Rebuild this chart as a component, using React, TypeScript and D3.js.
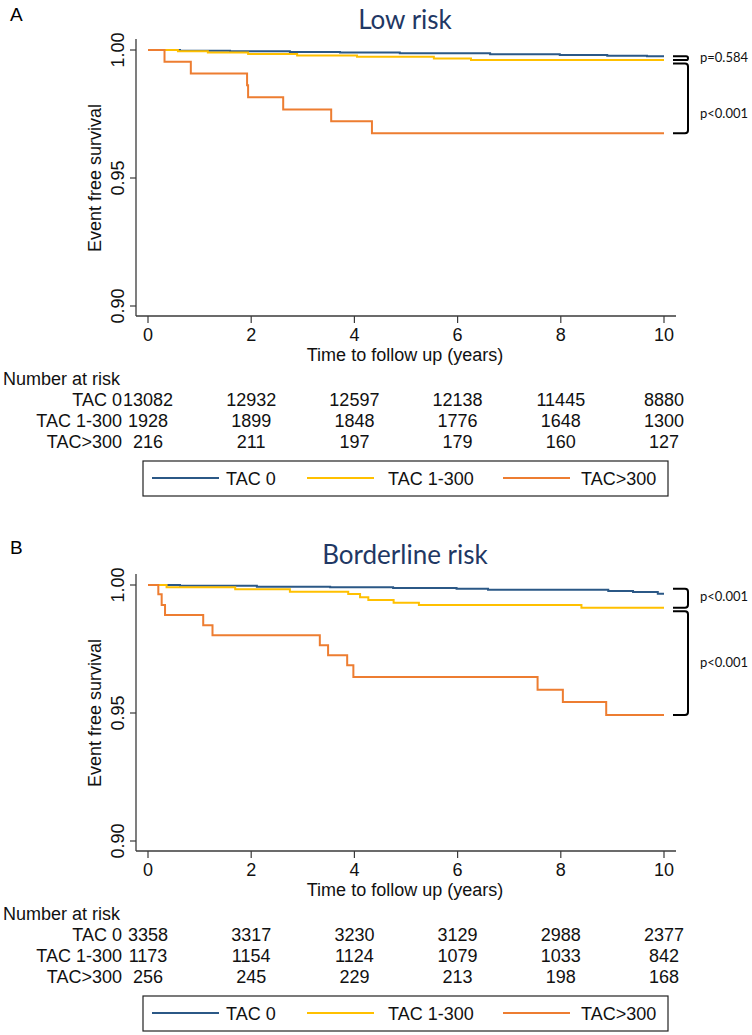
import React from "react";
import * as d3 from "d3";

// ---------- data ----------
const years = [0, 2, 4, 6, 8, 10];
const survivalTicks = [0.9, 0.95, 1.0];
const groupNames = ["TAC 0", "TAC 1-300", "TAC>300"];
const groupColors = ["#2b5886", "#ffc000", "#ed7d31"];

// Panel A - Low risk
const lowTac0Time = [0, 0.62, 1.59, 2.75, 3.72, 4.88, 6.63, 7.98, 8.9, 9.67, 10];
const lowTac0Surv = [1, 0.99973, 0.99949, 0.99922, 0.99902, 0.99875, 0.99836, 0.99805, 0.99777, 0.99754, 0.99754];
const lowTac1Time = [0, 0.58, 1.16, 1.94, 2.89, 4.05, 5.54, 6.26, 10];
const lowTac1Surv = [1, 0.9995, 0.999, 0.9984, 0.9979, 0.9974, 0.9967, 0.9961, 0.9961];
const lowTac300Time = [0, 0.32, 0.83, 1.92, 1.94, 2.62, 3.55, 4.34, 10];
const lowTac300Surv = [1, 0.9954, 0.9908, 0.9862, 0.9815, 0.9768, 0.9722, 0.9675, 0.9675];

// Panel B - Borderline risk
const blTac0Time = [0, 0.62, 2.11, 3.53, 4.75, 5.98, 6.59, 8.92, 9.4, 9.88, 10];
const blTac0Surv = [1, 0.9997, 0.9993, 0.9991, 0.9988, 0.99855, 0.99816, 0.99765, 0.99725, 0.9966, 0.9966];
const blTac1Time = [0, 0.36, 1.69, 2.75, 3.88, 4.11, 4.27, 4.76, 5.25, 8.4, 10];
const blTac1Surv = [1, 0.9991, 0.99831, 0.99737, 0.99647, 0.99518, 0.99412, 0.99306, 0.99216, 0.9911, 0.9911];
const blTac300Time = [0, 0.2, 0.265, 0.33, 1.07, 1.25, 3.33, 3.49, 3.86, 3.98, 7.55, 8.04, 8.88, 10];
const blTac300Surv = [1, 0.99635, 0.99216, 0.98824, 0.98431, 0.98039, 0.97647, 0.97255, 0.96863, 0.96404, 0.9591, 0.9543, 0.9492, 0.9492];

// Numbers at risk
const lowAtRiskTac0 = [13082, 12932, 12597, 12138, 11445, 8880];
const lowAtRiskTac1 = [1928, 1899, 1848, 1776, 1648, 1300];
const lowAtRiskTac300 = [216, 211, 197, 179, 160, 127];
const blAtRiskTac0 = [3358, 3317, 3230, 3129, 2988, 2377];
const blAtRiskTac1 = [1173, 1154, 1124, 1079, 1033, 842];
const blAtRiskTac300 = [256, 245, 229, 213, 198, 168];

// Log-rank comparisons
const lowPValues = ["p=0.584", "p<0.001"];
const lowPLabelAt = [0.99707, 0.97539];
const blPValues = ["p<0.001", "p<0.001"];
const blPLabelAt = [0.99541, 0.96992];

// ---------- drawing ----------
const SANS = "'Liberation Sans', Arial, Helvetica, sans-serif";
const TITLE_FONT = "Lato, 'Open Sans', sans-serif";

const x = d3.scaleLinear().domain([0, 10]).range([148, 664]);
const y = d3.scaleLinear().domain([0.9, 1.0]).range([306, 50]);
const line = d3
  .line<[number, number]>()
  .x((d) => x(d[0]))
  .y((d) => y(d[1]))
  .curve(d3.curveStepAfter);

type PanelProps = {
  offsetY: number;
  letter: string;
  letterY: number;
  title: string;
  times: number[][];
  survs: number[][];
  atRisk: number[][];
  pValues: string[];
  pLabelAt: number[];
  bracketPad: number;
};

function bracketPath(x0: number, x1: number, yTop: number, yBot: number) {
  const r = Math.min(3, (yBot - yTop) / 2);
  return `M${x0},${yTop} L${x1 - r},${yTop} Q${x1},${yTop} ${x1},${yTop + r} L${x1},${yBot - r} Q${x1},${yBot} ${x1 - r},${yBot} L${x0},${yBot}`;
}

function Panel(p: PanelProps) {
  const ends = p.survs.map((s) => s[s.length - 1]);
  const b1Top = y(ends[0]) - p.bracketPad;
  const b1Bot = y(ends[1]);
  const b2Top = y(ends[1]) + 3.5;
  const b2Bot = y(ends[2]);
  const axisColor = "#3a3a3a";
  const rowBase = [406, 427, 448];
  return (
    <g transform={`translate(0, ${p.offsetY})`}>
      <text x={10} y={p.letterY} fontFamily={SANS} fontSize={19} fill="#000">
        {p.letter}
      </text>
      <text x={405} y={29} textAnchor="middle" fontFamily={TITLE_FONT} fontSize={26} fill="#1f3864">
        {p.title}
      </text>

      {/* axes */}
      <line x1={136} x2={136} y1={39} y2={316} stroke={axisColor} strokeWidth={1.3} />
      <line x1={136} x2={676} y1={316} y2={316} stroke={axisColor} strokeWidth={1.3} />
      {survivalTicks.map((v) => (
        <g key={v}>
          <line x1={130} x2={136} y1={y(v)} y2={y(v)} stroke={axisColor} strokeWidth={1.2} />
          <text
            transform={`translate(124, ${y(v)}) rotate(-90)`}
            textAnchor="middle"
            fontFamily={SANS}
            fontSize={18}
            fill="#111"
          >
            {v.toFixed(2)}
          </text>
        </g>
      ))}
      <text
        transform={`translate(101, 178) rotate(-90)`}
        textAnchor="middle"
        fontFamily={SANS}
        fontSize={18}
        fill="#111"
      >
        Event free survival
      </text>
      {years.map((t) => (
        <g key={t}>
          <line x1={x(t)} x2={x(t)} y1={316} y2={323} stroke={axisColor} strokeWidth={1.2} />
          <text x={x(t)} y={341} textAnchor="middle" fontFamily={SANS} fontSize={18} fill="#111">
            {t}
          </text>
        </g>
      ))}
      <text x={405} y={361} textAnchor="middle" fontFamily={SANS} fontSize={18} fill="#111">
        Time to follow up (years)
      </text>

      {/* curves */}
      {p.times.map((ts, i) => (
        <path
          key={i}
          d={line(ts.map((t, j) => [t, p.survs[i][j]] as [number, number])) || ""}
          fill="none"
          stroke={groupColors[i]}
          strokeWidth={2}
        />
      ))}

      {/* brackets */}
      <path d={bracketPath(673, 688, b1Top, b1Bot)} fill="none" stroke="#000" strokeWidth={2} />
      <path d={bracketPath(673, 688, b2Top, b2Bot)} fill="none" stroke="#000" strokeWidth={2} />
      {p.pValues.map((pv, i) => (
        <text
          key={i}
          x={700}
          y={y(p.pLabelAt[i])}
          dy="0.35em"
          fontFamily={TITLE_FONT}
          fontSize={13}
          fill="#111"
        >
          {pv}
        </text>
      ))}

      {/* numbers at risk */}
      <text x={3} y={385} fontFamily={SANS} fontSize={18} fill="#111">
        Number at risk
      </text>
      {groupNames.map((g, i) => (
        <g key={g}>
          <text x={122} y={rowBase[i]} textAnchor="end" fontFamily={SANS} fontSize={18} fill="#111">
            {g}
          </text>
          {p.atRisk[i].map((n, j) => (
            <text
              key={j}
              x={x(years[j])}
              y={rowBase[i]}
              textAnchor="middle"
              fontFamily={SANS}
              fontSize={18}
              fill="#111"
            >
              {n}
            </text>
          ))}
        </g>
      ))}

      {/* legend */}
      <rect x={143} y={461} width={525} height={35} fill="#fff" stroke="#222" strokeWidth={1.2} />
      {groupNames.map((g, i) => {
        const lx = [152, 307, 503][i];
        const tx = [226, 388, 581][i];
        return (
          <g key={g}>
            <line x1={lx} x2={lx + 67} y1={478} y2={478} stroke={groupColors[i]} strokeWidth={2} />
            <text x={tx} y={485} fontFamily={SANS} fontSize={18} fill="#111">
              {g}
            </text>
          </g>
        );
      })}
    </g>
  );
}

export default function App() {
  return (
    <svg
      width={752}
      height={1035}
      style={{ position: "absolute", left: 0, top: 0, background: "#fff" }}
    >
      <rect width={752} height={1035} fill="#fff" />
      <Panel
        offsetY={0}
        letter="A"
        letterY={21}
        title="Low risk"
        times={[lowTac0Time, lowTac1Time, lowTac300Time]}
        survs={[lowTac0Surv, lowTac1Surv, lowTac300Surv]}
        atRisk={[lowAtRiskTac0, lowAtRiskTac1, lowAtRiskTac300]}
        pValues={lowPValues}
        pLabelAt={lowPLabelAt}
        bracketPad={0}
      />
      <Panel
        offsetY={535}
        letter="B"
        letterY={19}
        title="Borderline risk"
        times={[blTac0Time, blTac1Time, blTac300Time]}
        survs={[blTac0Surv, blTac1Surv, blTac300Surv]}
        atRisk={[blAtRiskTac0, blAtRiskTac1, blAtRiskTac300]}
        pValues={blPValues}
        pLabelAt={blPLabelAt}
        bracketPad={5}
      />
    </svg>
  );
}
